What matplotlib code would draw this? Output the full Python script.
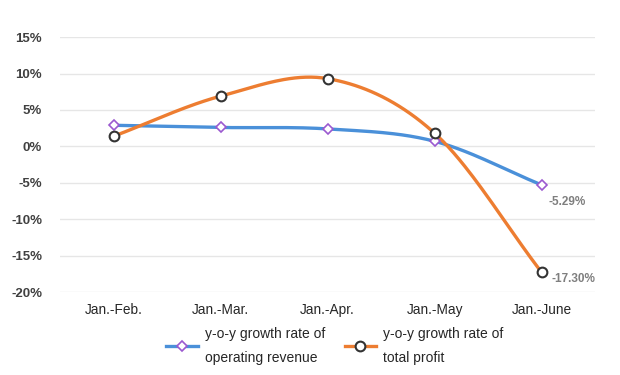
import numpy as np
import matplotlib
matplotlib.use("Agg")
import matplotlib.pyplot as plt
from matplotlib.lines import Line2D

categories = ["Jan.-Feb.", "Jan.-Mar.", "Jan.-Apr.", "Jan.-May", "Jan.-June"]
revenue = [2.9, 2.6, 2.4, 0.7, -5.29]
profit = [1.4, 6.9, 9.3, 1.8, -17.30]
yticks = [15, 10, 5, 0, -5, -10, -15, -20]
rev_label = "y-o-y growth rate of\noperating revenue"
prof_label = "y-o-y growth rate of\ntotal profit"

plt.rcParams['font.family'] = ['Liberation Sans', 'DejaVu Sans']

def smooth(x, y, n=40):
    x = np.asarray(x, float); y = np.asarray(y, float)
    px = np.concatenate([[2*x[0]-x[1]], x, [2*x[-1]-x[-2]]])
    py = np.concatenate([[2*y[0]-y[1]], y, [2*y[-1]-y[-2]]])
    xs, ys = [], []
    for i in range(1, len(px)-2):
        t = np.linspace(0, 1, n)
        for arr, out in ((px, xs), (py, ys)):
            p0, p1, p2, p3 = arr[i-1], arr[i], arr[i+1], arr[i+2]
            out.extend(0.5*((2*p1) + (-p0+p2)*t + (2*p0-5*p1+4*p2-p3)*t**2 + (-p0+3*p1-3*p2+p3)*t**3))
    return np.array(xs), np.array(ys)

fig = plt.figure(figsize=(6.2, 3.75), dpi=100)
ax = fig.add_axes([0.097, 0.221, 0.863, 0.68])
x = np.arange(len(categories))

blue = "#4A90D9"
orange = "#ED7D31"
sx, sy = smooth(x, revenue)
ax.plot(sx, sy, color=blue, lw=2.4, zorder=3)
ax.plot(x, revenue, ls="none", marker="D", ms=5, mfc="white", mec="#9B59D0", mew=1.2, zorder=5)
sx, sy = smooth(x, profit)
ax.plot(sx, sy, color=orange, lw=2.4, zorder=3)
ax.plot(x, profit, ls="none", marker="o", ms=7, mfc="white", mec="#333333", mew=1.5, zorder=5)

ax.annotate(f"{revenue[-1]:.2f}%", (x[-1], revenue[-1]), xytext=(5, -12), textcoords="offset points",
            fontsize=8.5, fontweight="bold", color="#7F7F7F", ha="left", va="center")
ax.annotate(f"{profit[-1]:.2f}%", (x[-1], profit[-1]), xytext=(7, -5), textcoords="offset points",
            fontsize=8.5, fontweight="bold", color="#7F7F7F", ha="left", va="center")

ax.set_xlim(-0.5, len(categories)-0.5)
ax.set_ylim(-20, 15)
ax.set_yticks(yticks)
ax.set_yticklabels([f"{v}%" for v in yticks], fontsize=9.5, fontweight="bold", color="#404040")
ax.set_xticks(x)
ax.set_xticklabels(categories, fontsize=9.8, color="#262626")
ax.tick_params(length=0, pad=8)
ax.tick_params(axis="y", pad=13)
ax.grid(axis="y", color="#E6E6E6", lw=1)
ax.set_axisbelow(True)
for s in ax.spines.values():
    s.set_visible(False)

handles = [
    Line2D([], [], color=blue, lw=2.4, marker="D", ms=5, mfc="white", mec="#9B59D0", mew=1.2),
    Line2D([], [], color=orange, lw=2.4, marker="o", ms=7, mfc="white", mec="#333333", mew=1.5),
]
leg = fig.legend(handles, [rev_label, prof_label], loc="center", bbox_to_anchor=(0.54, 0.078), ncol=2,
                 frameon=False, fontsize=10, handlelength=2.3, handletextpad=0.5, columnspacing=1.4)
for t in leg.get_texts():
    t.set_linespacing(1.9)
    t.set_color("#262626")

fig.savefig("out.png", dpi=100, facecolor="white")
